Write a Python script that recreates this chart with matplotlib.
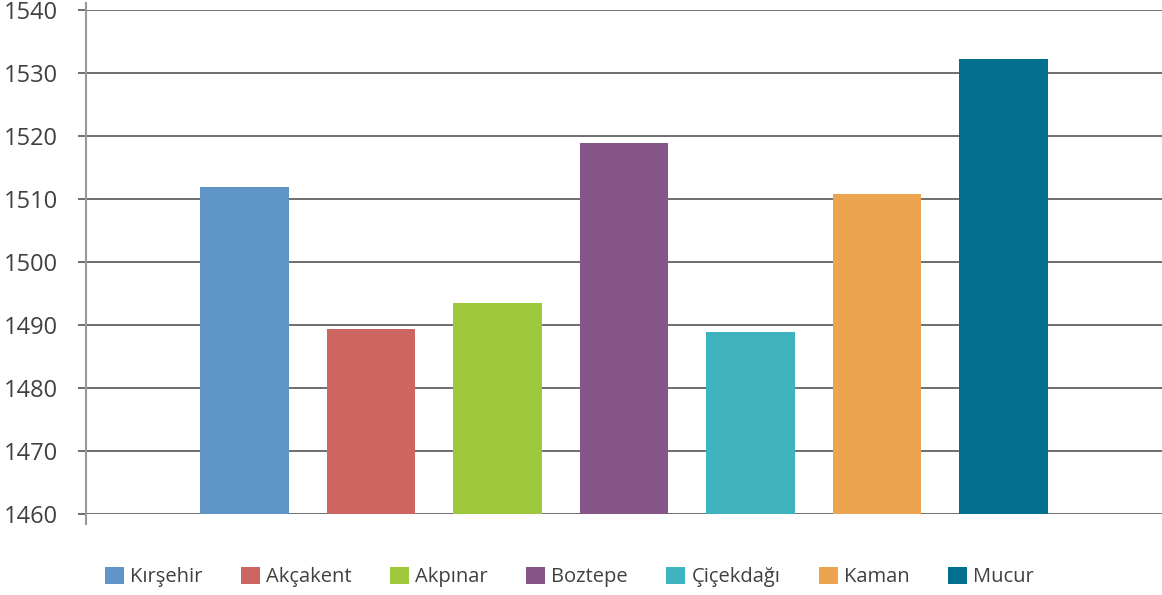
import matplotlib.pyplot as plt
from matplotlib.patches import Patch
from matplotlib.lines import Line2D

districts = ['Kırşehir', 'Akçakent', 'Akpınar', 'Boztepe', 'Çiçekdağı', 'Kaman', 'Mucur']
values = [1511.9, 1489.4, 1493.5, 1518.9, 1488.9, 1510.8, 1532.2]
colors = ['#5F95C7', '#CD6560', '#9DC83B', '#855687', '#3FB4BF', '#EDA44E', '#016F8D']
yticks = [1460, 1470, 1480, 1490, 1500, 1510, 1520, 1530, 1540]

plt.rcParams['font.family'] = ['Open Sans', 'DejaVu Sans']
text_color = '#404040'
grid_color = '#555555'

fig = plt.figure(figsize=(11.62, 5.95), dpi=100)
ax = fig.add_axes([86 / 1162, 1 - 514 / 595, 1 - 86 / 1162, 504 / 595])

x = list(range(len(districts)))
ax.bar(x, values, width=0.70, color=colors, zorder=3)

ax.set_xlim(-1.25, len(districts) + 0.25)
ax.set_ylim(1460, 1540)
ax.set_yticks(yticks)
ax.set_yticklabels([str(t) for t in yticks])
ax.set_xticks([])

ax.grid(axis='y', color=grid_color, linewidth=1.2, zorder=0)
for s in ['top', 'right', 'bottom', 'left']:
    ax.spines[s].set_visible(False)

# vertical axis line, a bit longer than the data range
ax.add_line(Line2D([0, 0], [-0.02, 1.014], transform=ax.transAxes,
                   color='#999999', linewidth=1.5, clip_on=False, zorder=4))

ax.tick_params(axis='y', length=6, width=1.2, color=grid_color, pad=14,
               labelsize=17, labelcolor=text_color)

handles = [Patch(facecolor=c, edgecolor='none') for c in colors]
fig.legend(handles, districts, loc='center left', bbox_to_anchor=(0.075, 0.03),
           ncol=7, frameon=False, fontsize=14.5, labelcolor=text_color,
           handlelength=0.95, handleheight=0.95, handletextpad=0.3,
           columnspacing=1.9)

fig.savefig('out.png', dpi=100)
